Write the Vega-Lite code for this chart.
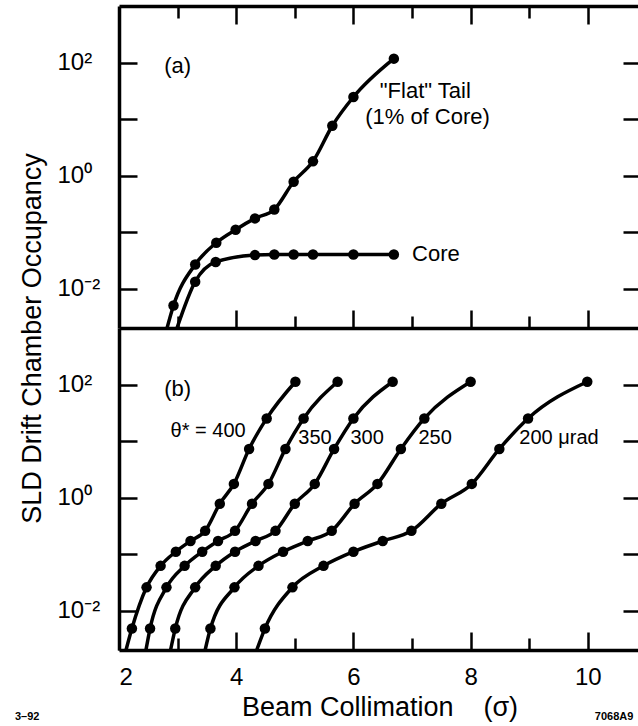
{
  "$schema": "https://vega.github.io/schema/vega-lite/v6.json",
  "background": "white",
  "padding": {"left": 14, "top": 4, "right": 0, "bottom": 0},
  "spacing": 0,
  "bounds": "flush",
  "config": {
    "view": {"stroke": null},
    "font": "Liberation Sans",
    "axis": {
      "labelFont": "Liberation Sans", "titleFont": "Liberation Sans",
      "labelColor": "black", "titleColor": "black", "domainColor": "black", "tickColor": "black",
      "grid": false, "domainWidth": 3.5, "tickWidth": 2.5, "labelFontSize": 24, "titleFontWeight": "normal"
    }
  },
  "datasets": {
    "a": [
      {"s": "tail", "x": 2.82, "y": 0.002, "d": 0},
      {"s": "tail", "x": 2.93, "y": 0.0050, "d": 1},
      {"s": "tail", "x": 3.30, "y": 0.0266, "d": 1},
      {"s": "tail", "x": 3.66, "y": 0.0646, "d": 1},
      {"s": "tail", "x": 3.99, "y": 0.110, "d": 1},
      {"s": "tail", "x": 4.32, "y": 0.174, "d": 1},
      {"s": "tail", "x": 4.65, "y": 0.251, "d": 1},
      {"s": "tail", "x": 4.98, "y": 0.776, "d": 1},
      {"s": "tail", "x": 5.31, "y": 1.78, "d": 1},
      {"s": "tail", "x": 5.64, "y": 7.59, "d": 1},
      {"s": "tail", "x": 6.00, "y": 24.5, "d": 1},
      {"s": "tail", "x": 6.69, "y": 117, "d": 1},
      {"s": "core", "x": 2.99, "y": 0.002, "d": 0},
      {"s": "core", "x": 3.30, "y": 0.0132, "d": 1},
      {"s": "core", "x": 3.65, "y": 0.0295, "d": 1},
      {"s": "core", "x": 4.32, "y": 0.039, "d": 1},
      {"s": "core", "x": 4.65, "y": 0.040, "d": 1},
      {"s": "core", "x": 4.98, "y": 0.040, "d": 1},
      {"s": "core", "x": 5.31, "y": 0.040, "d": 1},
      {"s": "core", "x": 6.00, "y": 0.040, "d": 1},
      {"s": "core", "x": 6.69, "y": 0.040, "d": 1}
    ],
    "b": [
      {"s": "400", "x": 2.12, "y": 0.002, "d": 0},
      {"s": "400", "x": 2.22, "y": 0.00479, "d": 1},
      {"s": "400", "x": 2.47, "y": 0.0257, "d": 1},
      {"s": "400", "x": 2.71, "y": 0.0617, "d": 1},
      {"s": "400", "x": 2.97, "y": 0.110, "d": 1},
      {"s": "400", "x": 3.22, "y": 0.170, "d": 1},
      {"s": "400", "x": 3.47, "y": 0.257, "d": 1},
      {"s": "400", "x": 3.72, "y": 0.776, "d": 1},
      {"s": "400", "x": 3.96, "y": 1.74, "d": 1},
      {"s": "400", "x": 4.22, "y": 7.24, "d": 1},
      {"s": "400", "x": 4.52, "y": 25.1, "d": 1},
      {"s": "400", "x": 5.01, "y": 112, "d": 1},
      {"s": "350", "x": 2.46, "y": 0.002, "d": 0},
      {"s": "350", "x": 2.53, "y": 0.00479, "d": 1},
      {"s": "350", "x": 2.81, "y": 0.0257, "d": 1},
      {"s": "350", "x": 3.12, "y": 0.0617, "d": 1},
      {"s": "350", "x": 3.42, "y": 0.110, "d": 1},
      {"s": "350", "x": 3.69, "y": 0.170, "d": 1},
      {"s": "350", "x": 3.98, "y": 0.257, "d": 1},
      {"s": "350", "x": 4.27, "y": 0.776, "d": 1},
      {"s": "350", "x": 4.55, "y": 1.74, "d": 1},
      {"s": "350", "x": 4.84, "y": 7.24, "d": 1},
      {"s": "350", "x": 5.15, "y": 25.1, "d": 1},
      {"s": "350", "x": 5.73, "y": 112, "d": 1},
      {"s": "300", "x": 2.88, "y": 0.002, "d": 0},
      {"s": "300", "x": 2.96, "y": 0.00479, "d": 1},
      {"s": "300", "x": 3.30, "y": 0.0257, "d": 1},
      {"s": "300", "x": 3.65, "y": 0.0617, "d": 1},
      {"s": "300", "x": 3.98, "y": 0.110, "d": 1},
      {"s": "300", "x": 4.33, "y": 0.170, "d": 1},
      {"s": "300", "x": 4.67, "y": 0.257, "d": 1},
      {"s": "300", "x": 5.00, "y": 0.776, "d": 1},
      {"s": "300", "x": 5.34, "y": 1.74, "d": 1},
      {"s": "300", "x": 5.67, "y": 7.24, "d": 1},
      {"s": "300", "x": 6.00, "y": 25.1, "d": 1},
      {"s": "300", "x": 6.67, "y": 112, "d": 1},
      {"s": "250", "x": 3.47, "y": 0.002, "d": 0},
      {"s": "250", "x": 3.56, "y": 0.00479, "d": 1},
      {"s": "250", "x": 3.97, "y": 0.0257, "d": 1},
      {"s": "250", "x": 4.38, "y": 0.0617, "d": 1},
      {"s": "250", "x": 4.80, "y": 0.110, "d": 1},
      {"s": "250", "x": 5.22, "y": 0.170, "d": 1},
      {"s": "250", "x": 5.63, "y": 0.257, "d": 1},
      {"s": "250", "x": 6.02, "y": 0.776, "d": 1},
      {"s": "250", "x": 6.41, "y": 1.74, "d": 1},
      {"s": "250", "x": 6.81, "y": 7.24, "d": 1},
      {"s": "250", "x": 7.21, "y": 25.1, "d": 1},
      {"s": "250", "x": 8.00, "y": 112, "d": 1},
      {"s": "200", "x": 4.35, "y": 0.002, "d": 0},
      {"s": "200", "x": 4.49, "y": 0.00479, "d": 1},
      {"s": "200", "x": 4.96, "y": 0.0257, "d": 1},
      {"s": "200", "x": 5.49, "y": 0.0617, "d": 1},
      {"s": "200", "x": 6.00, "y": 0.110, "d": 1},
      {"s": "200", "x": 6.50, "y": 0.170, "d": 1},
      {"s": "200", "x": 6.99, "y": 0.257, "d": 1},
      {"s": "200", "x": 7.50, "y": 0.776, "d": 1},
      {"s": "200", "x": 8.02, "y": 1.74, "d": 1},
      {"s": "200", "x": 8.49, "y": 7.24, "d": 1},
      {"s": "200", "x": 8.98, "y": 25.1, "d": 1},
      {"s": "200", "x": 9.99, "y": 112, "d": 1}
    ],
    "annA": [
      {"x": 2.77, "y": 85, "t": "(a)"},
      {"x": 6.45, "y": 31.6, "t": "\"Flat\" Tail"},
      {"x": 6.20, "y": 11, "t": "(1% of Core)"},
      {"x": 7.0, "y": 0.04, "t": "Core"}
    ],
    "annB1": [
      {"x": 2.77, "y": 82, "t": "(b)"}
    ],
    "annB2": [
      {"x": 2.88, "y": 14.8, "t": "θ* = 400"},
      {"x": 5.06, "y": 11.2, "t": "350"},
      {"x": 5.95, "y": 11.2, "t": "300"},
      {"x": 7.11, "y": 11.2, "t": "250"},
      {"x": 8.83, "y": 11.2, "t": "200 μrad"}
    ],
    "notes": [
      {"x": 0.225, "y": 0.00013, "t": "3–92"},
      {"x": 10.12, "y": 0.00013, "t": "7068A9"}
    ]
  },
  "vconcat": [
    {
      "width": 521, "height": 322,
      "layer": [
        {
          "data": {"name": "a"},
          "mark": {"type": "line", "interpolate": "monotone", "strokeWidth": 3.5, "color": "black"},
          "encoding": {
            "x": {"field": "x", "type": "quantitative", "scale": {"domain": [2, 10.89], "nice": false, "zero": false},
              "axis": {"orient": "bottom", "values": [3, 4, 5, 6, 7, 8, 9, 10], "labels": false, "title": null,
                "tickSize": {"condition": {"test": "datum.value % 2 === 0", "value": -18}, "value": -12}}},
            "y": {"field": "y", "type": "quantitative", "scale": {"type": "log", "domain": [0.002, 1000], "nice": false},
              "axis": {"orient": "left", "values": [0.01, 0.1, 1, 10, 100], "tickSize": -18, "labelAlign": "left", "labelBaseline": "middle", "labelPadding": 80,
                "labelExpr": "datum.value == 100 ? '10²' : datum.value == 1 ? '10⁰' : datum.value == 0.01 ? '10⁻²' : ''",
                "title": "SLD Drift Chamber Occupancy", "titleFontSize": 27, "titlePadding": 11, "titleY": 332}},
            "detail": {"field": "s"}
          }
        },
        {
          "data": {"name": "a"},
          "transform": [{"filter": "datum.d == 1"}],
          "mark": {"type": "point", "filled": true, "size": 110, "color": "black", "opacity": 1},
          "encoding": {
            "x": {"field": "x", "type": "quantitative",
              "axis": {"orient": "top", "values": [3, 4, 5, 6, 7, 8, 9, 10], "labels": false, "title": null,
                "tickSize": {"condition": {"test": "datum.value % 2 === 0", "value": -18}, "value": -12}}},
            "y": {"field": "y", "type": "quantitative",
              "axis": {"orient": "right", "values": [0.01, 0.1, 1, 10, 100], "labels": false, "title": null, "domain": false, "tickSize": -17}}
          }
        },
        {
          "data": {"name": "annA"},
          "mark": {"type": "text", "align": "left", "baseline": "middle", "fontSize": 22, "font": "Liberation Sans", "color": "black"},
          "encoding": {
            "x": {"field": "x", "type": "quantitative", "axis": null},
            "y": {"field": "y", "type": "quantitative", "axis": null},
            "text": {"field": "t"}
          }
        }
      ],
      "resolve": {"axis": {"x": "independent", "y": "independent"}}
    },
    {
      "width": 521, "height": 322,
      "layer": [
        {
          "data": {"name": "b"},
          "mark": {"type": "line", "interpolate": "monotone", "strokeWidth": 3.5, "color": "black"},
          "encoding": {
            "x": {"field": "x", "type": "quantitative", "scale": {"domain": [2, 10.89], "nice": false, "zero": false},
              "axis": {"orient": "bottom", "values": [2, 3, 4, 5, 6, 7, 8, 9, 10], "labelExpr": "datum.value % 2 === 0 ? datum.label : ''",
                "labelPadding": 33, "labelFontSize": 24,
                "tickSize": {"condition": {"test": "datum.value % 2 === 0", "value": -18}, "value": -12},
                "title": "Beam Collimation\u00a0\u00a0\u00a0\u00a0(σ)", "titleFontSize": 27, "titlePadding": 5}},
            "y": {"field": "y", "type": "quantitative", "scale": {"type": "log", "domain": [0.002, 1000], "nice": false},
              "axis": {"orient": "left", "values": [0.01, 0.1, 1, 10, 100], "tickSize": -18, "labelAlign": "left", "labelBaseline": "middle", "labelPadding": 80,
                "labelExpr": "datum.value == 100 ? '10²' : datum.value == 1 ? '10⁰' : datum.value == 0.01 ? '10⁻²' : ''",
                "title": null}},
            "detail": {"field": "s"}
          }
        },
        {
          "data": {"name": "b"},
          "transform": [{"filter": "datum.d == 1"}],
          "mark": {"type": "point", "filled": true, "size": 110, "color": "black", "opacity": 1},
          "encoding": {
            "x": {"field": "x", "type": "quantitative", "axis": null},
            "y": {"field": "y", "type": "quantitative",
              "axis": {"orient": "right", "values": [0.01, 0.1, 1, 10, 100], "labels": false, "title": null, "domain": false, "tickSize": -17}}
          }
        },
        {
          "data": {"name": "annB1"},
          "mark": {"type": "text", "align": "left", "baseline": "middle", "fontSize": 22, "font": "Liberation Sans", "color": "black"},
          "encoding": {
            "x": {"field": "x", "type": "quantitative", "axis": null},
            "y": {"field": "y", "type": "quantitative", "axis": null},
            "text": {"field": "t"}
          }
        },
        {
          "data": {"name": "annB2"},
          "mark": {"type": "text", "align": "left", "baseline": "middle", "fontSize": 20, "font": "Liberation Sans", "color": "black"},
          "encoding": {
            "x": {"field": "x", "type": "quantitative", "axis": null},
            "y": {"field": "y", "type": "quantitative", "axis": null},
            "text": {"field": "t"}
          }
        },
        {
          "data": {"name": "notes"},
          "mark": {"type": "text", "align": "left", "baseline": "middle", "fontSize": 11, "fontWeight": "bold", "font": "Liberation Sans", "color": "black"},
          "encoding": {
            "x": {"field": "x", "type": "quantitative", "axis": null},
            "y": {"field": "y", "type": "quantitative", "axis": null},
            "text": {"field": "t"}
          }
        }
      ],
      "resolve": {"axis": {"x": "independent", "y": "independent"}}
    }
  ]
}
